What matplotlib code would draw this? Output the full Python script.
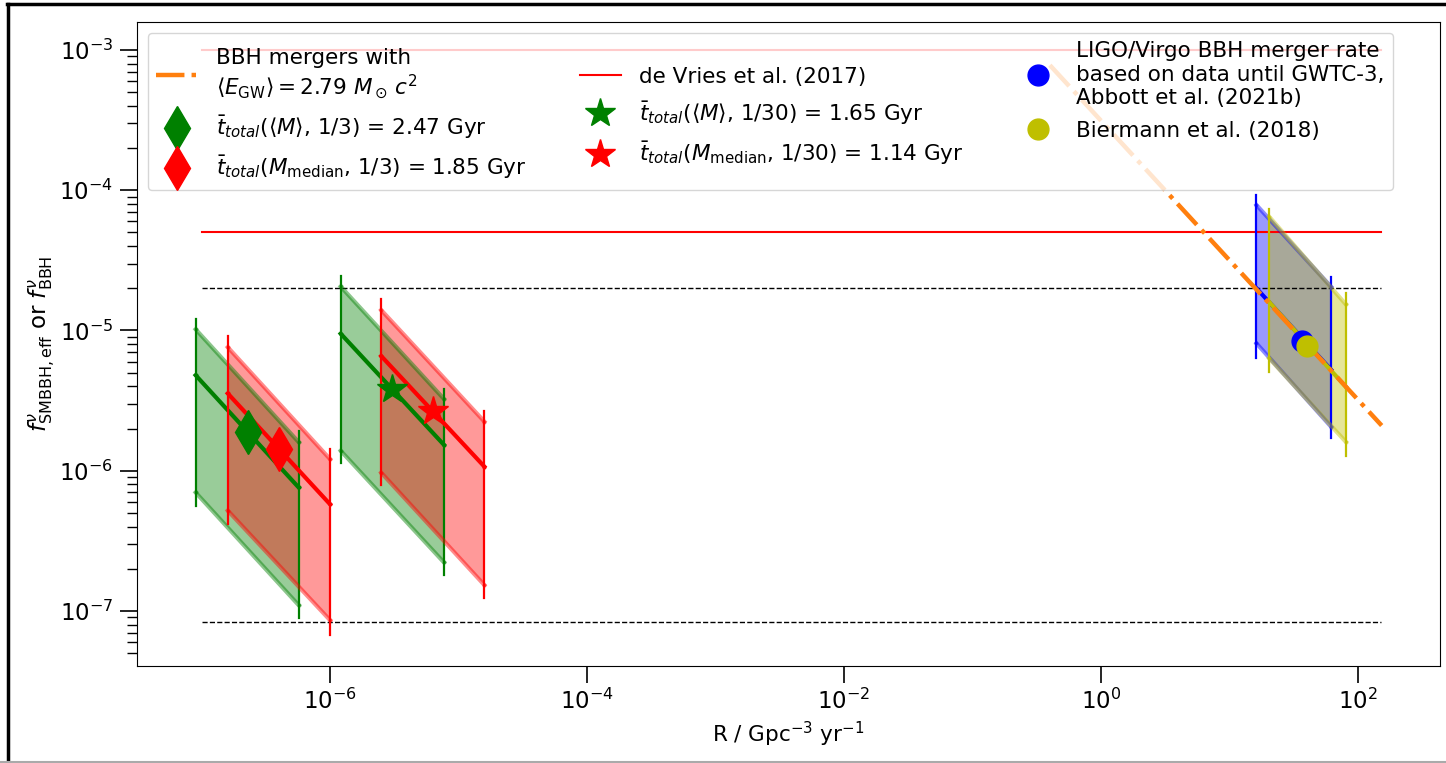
import matplotlib
matplotlib.use("Agg")
import matplotlib.pyplot as plt
from matplotlib.lines import Line2D

plt.rcParams['font.family'] = ['DejaVu Sans']
plt.rcParams['mathtext.fontset'] = 'dejavusans'

# ---------------- data ----------------
# horizontal reference levels
R_hline = [1e-7, 150.0]
f_devries = 5e-5
f_top_line = 1e-3
f_dashed_hi = 2e-5
f_dashed_lo = 8.3e-8

# BBH mergers with <E_GW> = 2.79 Msun c^2
R_bbh = [0.40, 152.8]
f_bbh = [7.8e-4, 2.1e-6]

# <M>, 1/3  (green, diamond)
g3_R = [9.0e-8, 5.7e-7]
g3_mid = [4.8e-6, 7.6e-7]
g3_top = [1.02e-5, 1.6e-6]
g3_bot = [7.0e-7, 1.1e-7]
g3_vleft = [5.6e-7, 1.21e-5]
g3_vright = [8.9e-8, 1.92e-6]
g3_point = (2.29e-7, 1.88e-6)

# M_median, 1/3  (red, diamond)
r3_R = [1.6e-7, 1.0e-6]
r3_mid = [3.56e-6, 5.77e-7]
r3_top = [7.6e-6, 1.21e-6]
r3_bot = [5.2e-7, 8.6e-8]
r3_vleft = [4.17e-7, 9.1e-6]
r3_vright = [6.7e-8, 1.43e-6]
r3_point = (4.0e-7, 1.43e-6)

# <M>, 1/30  (green, star)
g30_R = [1.21e-6, 7.7e-6]
g30_mid = [9.5e-6, 1.53e-6]
g30_top = [2.06e-5, 3.25e-6]
g30_bot = [1.39e-6, 2.22e-7]
g30_vleft = [1.13e-6, 2.45e-5]
g30_vright = [1.81e-7, 3.81e-6]
g30_point = (3.05e-6, 3.81e-6)

# M_median, 1/30  (red, star)
r30_R = [2.5e-6, 1.59e-5]
r30_mid = [6.58e-6, 1.07e-6]
r30_top = [1.40e-5, 2.24e-6]
r30_bot = [9.7e-7, 1.53e-7]
r30_vleft = [7.9e-7, 1.68e-5]
r30_vright = [1.24e-7, 2.67e-6]
r30_point = (6.37e-6, 2.67e-6)

# LIGO/Virgo (blue)
lv_R = [16.2, 61.7]
lv_mid = [2.0e-5, 5.25e-6]
lv_top = [7.85e-5, 2.05e-5]
lv_bot = [8.1e-6, 2.06e-6]
lv_vleft = [6.4e-6, 9.2e-5]
lv_vright = [1.70e-6, 2.42e-5]
lv_point = (36.5, 8.4e-6)

# Biermann et al. (2018) (yellow)
bi_R = [20.3, 80.2]
bi_mid = [1.60e-5, 3.97e-6]
bi_top = [6.5e-5, 1.54e-5]
bi_bot = [6.35e-6, 1.61e-6]
bi_vleft = [5.08e-6, 7.35e-5]
bi_vright = [1.28e-6, 1.84e-5]
bi_point = (40.3, 7.8e-6)

labels = [
    "BBH mergers with\n$\\langle E_{\\rm GW}\\rangle = 2.79\\ M_\\odot\\, c^2$",
    "$\\bar{t}_{total}(\\langle M\\rangle$, 1/3) = 2.47 Gyr",
    "$\\bar{t}_{total}(M_{\\rm median}$, 1/3) = 1.85 Gyr",
    "de Vries et al. (2017)",
    "$\\bar{t}_{total}(\\langle M\\rangle$, 1/30) = 1.65 Gyr",
    "$\\bar{t}_{total}(M_{\\rm median}$, 1/30) = 1.14 Gyr",
    "LIGO/Virgo BBH merger rate\nbased on data until GWTC-3,\nAbbott et al. (2021b)",
    "Biermann et al. (2018)",
]

FS = 15.5

fig = plt.figure(figsize=(14.46, 7.63), dpi=100)
ax = fig.add_axes([137 / 1446, 1 - 665.5 / 763, (1440 - 137) / 1446, (665.5 - 22) / 763])
ax.set_xscale('log')
ax.set_yscale('log')

bands = [
    (g3_R, g3_mid, g3_top, g3_bot, g3_vleft, g3_vright, 'green'),
    (r3_R, r3_mid, r3_top, r3_bot, r3_vleft, r3_vright, 'red'),
    (g30_R, g30_mid, g30_top, g30_bot, g30_vleft, g30_vright, 'green'),
    (r30_R, r30_mid, r30_top, r30_bot, r30_vleft, r30_vright, 'red'),
    (lv_R, lv_mid, lv_top, lv_bot, lv_vleft, lv_vright, 'blue'),
    (bi_R, bi_mid, bi_top, bi_bot, bi_vleft, bi_vright, 'y'),
]

# reference lines
ax.plot(R_hline, [f_top_line, f_top_line], color='red', lw=1.5)
ax.plot(R_hline, [f_devries, f_devries], color='red', lw=1.5)
ax.plot(R_hline, [f_dashed_hi, f_dashed_hi], color='k', ls='--', lw=1.0)
ax.plot(R_hline, [f_dashed_lo, f_dashed_lo], color='k', ls='--', lw=1.0)

for R, mid, top, bot, vl, vr, c in bands:
    ax.fill_between(R, bot, top, color=c, alpha=0.4, lw=0)
    ax.plot(R, top, color=c, alpha=0.45, lw=3, marker='.', ms=4)
    ax.plot(R, bot, color=c, alpha=0.45, lw=3, marker='.', ms=4)
    ax.plot(R, mid, color=c, lw=3, marker='.', ms=4)
    ax.plot([R[0], R[0]], vl, color=c, lw=1.6)
    ax.plot([R[1], R[1]], vr, color=c, lw=1.6)

ax.plot(R_bbh, f_bbh, color='tab:orange', ls='-.', lw=3.2)

ax.plot(*g3_point, marker='d', color='green', ms=22, ls='none')
ax.plot(*r3_point, marker='d', color='red', ms=22, ls='none')
ax.plot(*g30_point, marker='*', color='green', ms=22, ls='none')
ax.plot(*r30_point, marker='*', color='red', ms=22, ls='none')
ax.plot(*lv_point, marker='o', color='blue', ms=15, ls='none')
ax.plot(*bi_point, marker='o', color='y', ms=15, ls='none')

ax.set_xlim(10 ** -7.502, 10 ** 2.638)
ax.set_ylim(10 ** -7.389, 10 ** -2.80)
ax.xaxis.set_minor_locator(matplotlib.ticker.NullLocator())
ax.tick_params(which='major', length=12, width=1.2, labelsize=FS + 1, pad=5)
ax.tick_params(which='minor', length=7, width=1.0)

ax.set_xlabel("R / Gpc$^{-3}$ yr$^{-1}$", fontsize=FS)
ax.set_ylabel("$f^{\\nu}_{\\rm SMBBH,eff}$ or $f^{\\nu}_{\\rm BBH}$", fontsize=FS + 1,
              labelpad=2)

handles = [
    Line2D([], [], color='tab:orange', ls='-.', lw=3.2),
    Line2D([], [], color='green', marker='d', ms=22, ls='none'),
    Line2D([], [], color='red', marker='d', ms=22, ls='none'),
    Line2D([], [], color='red', lw=1.5),
    Line2D([], [], color='green', marker='*', ms=22, ls='none'),
    Line2D([], [], color='red', marker='*', ms=22, ls='none'),
    Line2D([], [], color='blue', marker='o', ms=15, ls='none'),
    Line2D([], [], color='y', marker='o', ms=15, ls='none'),
]
ax.legend(handles, labels, loc='upper left', ncol=3, fontsize=FS,
          handlelength=1.9, handletextpad=0.85, columnspacing=2.5, labelspacing=0.6)

# screenshot frame
fig.add_artist(Line2D([7 / 1446, 1], [1 - 4 / 763, 1 - 4 / 763], color='black', lw=2.5,
                      transform=fig.transFigure))
fig.add_artist(Line2D([8 / 1446, 8 / 1446], [0, 1 - 4 / 763], color='black', lw=2.5,
                      transform=fig.transFigure))
fig.add_artist(Line2D([0, 1], [1 / 763, 1 / 763], color='#aaaaaa', lw=1.5,
                      transform=fig.transFigure))

fig.savefig("out.png", dpi=100)
